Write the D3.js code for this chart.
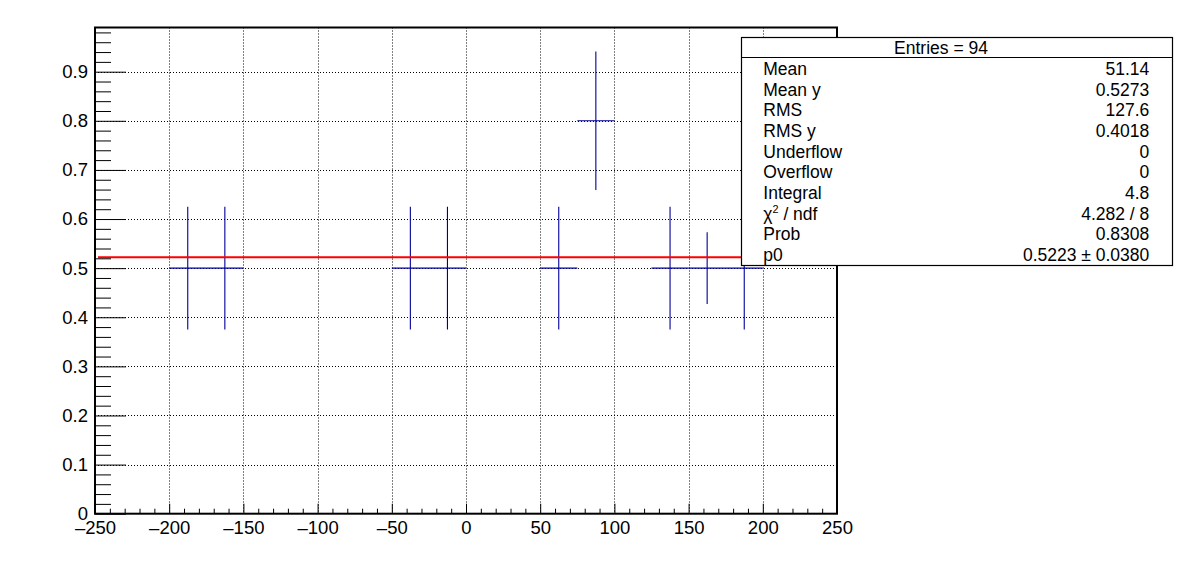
<!DOCTYPE html>
<html>
<head>
<meta charset="utf-8">
<script src="https://cdn.jsdelivr.net/npm/d3@7"></script>
<style>
  html, body { margin: 0; padding: 0; background: #fff; }
  svg { display: block; }
  text { font-family: "Liberation Sans", Arial, Helvetica, sans-serif; }
</style>
</head>
<body>
<svg id="chart" width="1196" height="572"></svg>
<script>
// ---- data ----
const binCenters = [-187.5, -162.5, -37.5, -12.5, 62.5, 87.5, 137.5, 162.5, 187.5];
const binValues  = [0.5, 0.5, 0.5, 0.5, 0.5, 0.8, 0.5, 0.5, 0.5];
const binErrors  = [0.125, 0.125, 0.125, 0.125, 0.125, 0.141, 0.125, 0.073, 0.125];
const binWidth = 25;
const fitValue = 0.5223;
const xDomain = [-250, 250];
const yDomain = [0, 0.99];
const xTickValues = [-250, -200, -150, -100, -50, 0, 50, 100, 150, 200, 250];
const xTickLabels = ["\u2013250", "\u2013200", "\u2013150", "\u2013100", "\u201350", "0", "50", "100", "150", "200", "250"];
const yTickValues = [0, 0.1, 0.2, 0.3, 0.4, 0.5, 0.6, 0.7, 0.8, 0.9];
const yTickLabels = ["0", "0.1", "0.2", "0.3", "0.4", "0.5", "0.6", "0.7", "0.8", "0.9"];
const xMinorStep = 10;
const yMinorStep = 0.02;
const statsTitle = "Entries = 94";
const statsNames  = ["Mean", "Mean y", "RMS", "RMS y", "Underflow", "Overflow", "Integral", "CHI2", "Prob", "p0"];
const statsValues = ["51.14", "0.5273", "127.6", "0.4018", "0", "0", "4.8", "4.282 / 8", "0.8308", "0.5223 \u00b1 0.0380"];

// ---- layout ----
const svg = d3.select("#chart");
const L = 95, R = 837, T = 27.5, B = 513.7;
const x = d3.scaleLinear().domain(xDomain).range([L, R]);
const y = d3.scaleLinear().domain(yDomain).range([B, T]);

svg.append("rect").attr("width", 1196).attr("height", 572).attr("fill", "#fff");

// grid
const gridX = xTickValues.filter(v => v > xDomain[0] && v < xDomain[1]);
const gridY = yTickValues.filter(v => v > yDomain[0]);
svg.append("g").selectAll("line").data(gridX).join("line")
  .attr("x1", d => Math.round(x(d)) + 0.5).attr("x2", d => Math.round(x(d)) + 0.5)
  .attr("y1", T).attr("y2", B)
  .attr("stroke", "#000").attr("stroke-width", 1).attr("stroke-dasharray", "1,2");
svg.append("g").selectAll("line").data(gridY).join("line")
  .attr("y1", d => Math.round(y(d)) + 0.5).attr("y2", d => Math.round(y(d)) + 0.5)
  .attr("x1", L).attr("x2", R)
  .attr("stroke", "#000").attr("stroke-width", 1).attr("stroke-dasharray", "1,2");

// error bars
const bars = binCenters.map((c, i) => ({ c, v: binValues[i], e: binErrors[i] }));
const gBars = svg.append("g").attr("stroke", "#000099").attr("stroke-width", 1.1);
gBars.selectAll("line.h").data(bars).join("line").attr("class", "h")
  .attr("x1", d => x(d.c - binWidth / 2)).attr("x2", d => x(d.c + binWidth / 2))
  .attr("y1", d => y(d.v)).attr("y2", d => y(d.v));
gBars.selectAll("line.v").data(bars).join("line").attr("class", "v")
  .attr("x1", d => x(d.c)).attr("x2", d => x(d.c))
  .attr("y1", d => y(d.v + d.e)).attr("y2", d => y(d.v - d.e));

// fit line
svg.append("line")
  .attr("x1", x(xDomain[0]) + 3).attr("x2", x(xDomain[1]))
  .attr("y1", y(fitValue)).attr("y2", y(fitValue))
  .attr("stroke", "#ff0000").attr("stroke-width", 2);

// axes
const fontSize = 18.5;
const xMinor = d3.range(xDomain[0], xDomain[1] + 0.001, xMinorStep).filter(v => !xTickValues.some(t => Math.abs(t - v) < 1e-6));
const yMinor = d3.range(0, yDomain[1], yMinorStep).map(v => +v.toFixed(2)).filter(v => !yTickValues.some(t => Math.abs(t - v) < 1e-6));

svg.append("g").attr("transform", `translate(0,${B})`)
  .call(d3.axisBottom(x).tickValues(xTickValues).tickFormat((d, i) => xTickLabels[i]).tickSize(-10).tickPadding(7).tickSizeOuter(0));
svg.append("g").attr("transform", `translate(0,${B})`)
  .call(d3.axisBottom(x).tickValues(xMinor).tickFormat("").tickSize(-5).tickSizeOuter(0));
svg.append("g").attr("transform", `translate(${L},0)`)
  .call(d3.axisLeft(y).tickValues(yTickValues).tickFormat((d, i) => yTickLabels[i]).tickSize(-31).tickPadding(7).tickSizeOuter(0));
svg.append("g").attr("transform", `translate(${L},0)`)
  .call(d3.axisLeft(y).tickValues(yMinor).tickFormat("").tickSize(-16).tickSizeOuter(0));
svg.selectAll(".domain").remove();
svg.selectAll(".tick line").attr("stroke", "#000").attr("stroke-width", 1);
svg.selectAll(".tick text").attr("font-size", fontSize).attr("fill", "#000")
  .attr("font-family", '"Liberation Sans", Arial, sans-serif');

// frame
svg.append("rect").attr("x", L).attr("y", T).attr("width", R - L).attr("height", B - T)
  .attr("fill", "none").attr("stroke", "#000").attr("stroke-width", 2);

// stats box
const SB = { x: 741.5, y: 37.5, w: 431, h: 228, sep: 57.5 };
const gs = svg.append("g");
gs.append("rect").attr("x", SB.x).attr("y", SB.y).attr("width", SB.w).attr("height", SB.h)
  .attr("fill", "#fff").attr("stroke", "#000").attr("stroke-width", 1.2);
gs.append("line").attr("x1", SB.x).attr("x2", SB.x + SB.w).attr("y1", SB.sep).attr("y2", SB.sep)
  .attr("stroke", "#000").attr("stroke-width", 1.2);
gs.append("text").attr("x", 941).attr("y", 54.3).attr("text-anchor", "middle")
  .attr("font-size", 17.5).text(statsTitle);
const rowY0 = 75, rowDy = 20.67, statsFont = 17.5;
statsNames.forEach((n, i) => {
  const t = gs.append("text").attr("x", 763.3).attr("y", rowY0 + i * rowDy).attr("font-size", statsFont);
  if (n === "CHI2") {
    t.append("tspan").text("\u03c7");
    t.append("tspan").attr("font-size", statsFont * 0.62).attr("dy", -7).text("2");
    t.append("tspan").attr("dy", 7).text(" / ndf");
  } else {
    t.text(n);
  }
  gs.append("text").attr("x", 1149.3).attr("y", rowY0 + i * rowDy).attr("text-anchor", "end")
    .attr("font-size", statsFont).text(statsValues[i]);
});
</script>
</body>
</html>
